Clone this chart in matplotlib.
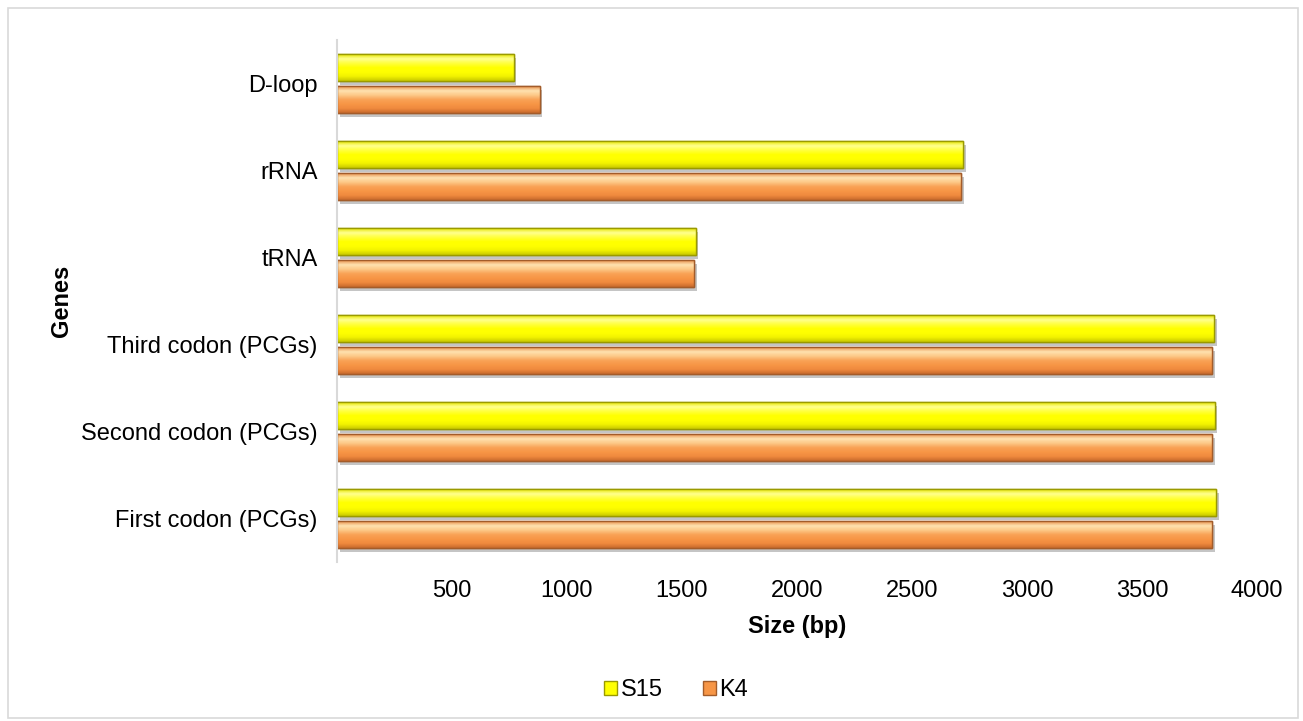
import matplotlib
matplotlib.use("Agg")
import matplotlib.pyplot as plt
import matplotlib.patheffects as pe
from matplotlib.patches import Rectangle, Patch
from matplotlib.colors import LinearSegmentedColormap
import numpy as np

plt.rcParams['font.family'] = ['Liberation Sans', 'DejaVu Sans']

genes = ["First codon (PCGs)", "Second codon (PCGs)", "Third codon (PCGs)",
         "tRNA", "rRNA", "D-loop"]
s15 = [3821, 3816, 3812, 1559, 2722, 768]
k4 = [3806, 3806, 3804, 1554, 2713, 881]
xticks = [500, 1000, 1500, 2000, 2500, 3000, 3500, 4000]

FS = 17

fig = plt.figure(figsize=(13.03, 7.21), dpi=100)
fig.patches.append(Rectangle((0.006, 0.004), 0.99, 0.985, transform=fig.transFigure,
                             fill=False, edgecolor="#D9D9D9", linewidth=1.2))
ax = fig.add_axes([0.2586, 0.2205, 0.7061, 0.724])

y = np.arange(len(genes))
h = 0.31
off = 0.185

# vertical shading profiles (bottom -> top) for the bevelled bars
yellow_cmap = LinearSegmentedColormap.from_list(
    "yel", ["#C8C800", "#F2F200", "#FFFF00", "#FFFF00", "#FFFF40", "#FFFF90", "#E6E600"])
orange_cmap = LinearSegmentedColormap.from_list(
    "org", ["#C86A2C", "#F08A3E", "#F79646", "#F9A256", "#FDC988", "#FFE2B0", "#E8904A"])
grad = np.linspace(0, 1, 64).reshape(-1, 1)


def bevel_bars(ypos, vals, cmap, face, edge):
    shadow = [pe.SimplePatchShadow(offset=(2, -3), shadow_rgbFace="#808080", alpha=0.45),
              pe.Normal()]
    bars = ax.barh(ypos, vals, height=h, color=face, edgecolor=edge, linewidth=1.0,
                   zorder=2)
    for b in bars:
        b.set_path_effects(shadow)
        x0, y0 = b.get_x(), b.get_y()
        im = ax.imshow(grad, cmap=cmap, aspect="auto", origin="lower",
                       extent=[x0, x0 + b.get_width(), y0, y0 + b.get_height()],
                       zorder=3, interpolation="bilinear")
        im.set_clip_path(b)
        # outline on top of the shading
        ax.add_patch(Rectangle((x0, y0), b.get_width(), b.get_height(), fill=False,
                               edgecolor=edge, linewidth=1.0, zorder=4))
    return bars


bevel_bars(y + off, s15, yellow_cmap, "#FFFF00", "#9A9A00")
bevel_bars(y - off, k4, orange_cmap, "#F79646", "#A35C2A")

ax.set_xlim(0, 4000)
ax.set_ylim(-0.5, len(genes) - 0.5)
ax.set_xticks(xticks)
ax.set_xticklabels([str(t) for t in xticks], fontsize=FS)
ax.set_yticks(y)
ax.set_yticklabels(genes, fontsize=FS)
ax.tick_params(axis="both", length=0)
ax.tick_params(axis="x", pad=13)
ax.tick_params(axis="y", pad=14)
for s in ("top", "right", "bottom"):
    ax.spines[s].set_visible(False)
ax.spines["left"].set_color("#D9D9D9")
ax.spines["left"].set_linewidth(1.5)
ax.spines["left"].set_zorder(5)

ax.set_xlabel("Size (bp)", fontsize=FS, fontweight="bold", labelpad=9)
ax.set_ylabel("Genes", fontsize=FS, fontweight="bold", labelpad=6)

handles = [Patch(facecolor="#FFFF00", edgecolor="#9A9A00", label="S15"),
           Patch(facecolor="#F79646", edgecolor="#A35C2A", label="K4")]
fig.legend(handles=handles, loc="center", bbox_to_anchor=(0.519, 0.043), ncol=2,
           frameon=False, fontsize=FS, handlelength=0.55, handleheight=0.55,
           handletextpad=0.15, columnspacing=1.7)

fig.savefig("out.png", dpi=100)
